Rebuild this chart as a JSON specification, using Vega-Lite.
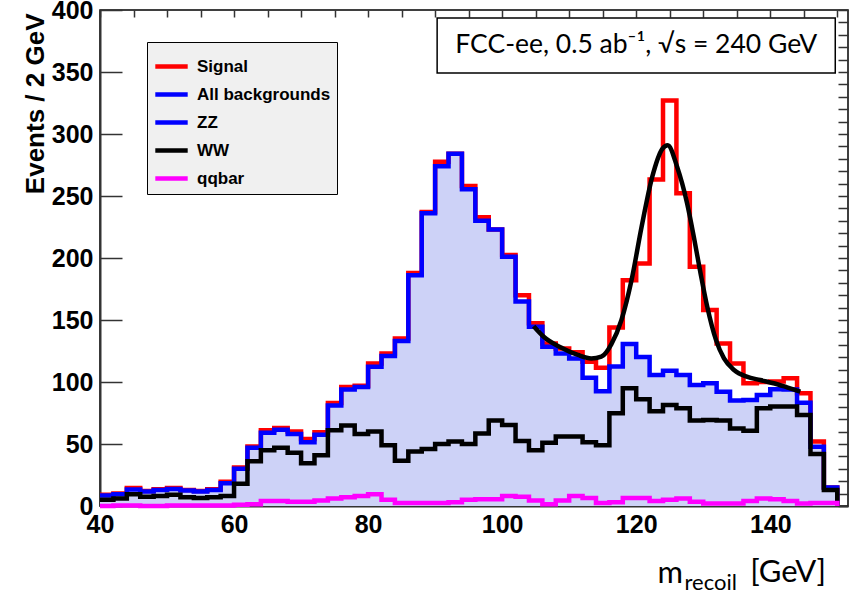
{
  "$schema": "https://vega.github.io/schema/vega-lite/v6.json",
  "width": 748,
  "height": 496,
  "autosize": {"type": "none"},
  "padding": {"left": 100, "top": 10, "right": 2, "bottom": 87},
  "background": "white",
  "config": {
    "view": {"stroke": "black", "strokeWidth": 1.5},
    "axis": {"labelFont": "Liberation Sans", "labelFontWeight": "bold", "labelFontSize": 25, "labelColor": "black", "domainColor": "#333333", "domainWidth": 2, "tickColor": "#333333", "tickWidth": 1.5, "grid": false, "titleColor": "black"},
    "legend": {"orient": "none", "legendX": 47, "legendY": 32, "symbolType": "stroke", "symbolSize": 1050, "symbolStrokeWidth": 4.5, "labelFont": "Liberation Sans", "labelFontWeight": "bold", "labelFontSize": 17, "labelColor": "black", "labelOffset": 7, "padding": 6, "fillColor": "#f0f0f0", "strokeColor": "black", "rowPadding": 0}
  },
  "datasets": {
    "hist": [
      {"x": 40, "sig": 9, "bkg": 8.5, "ww": 5, "qq": 0},
      {"x": 42, "sig": 10, "bkg": 9.4, "ww": 6, "qq": 0.5},
      {"x": 44, "sig": 14.5, "bkg": 13.4, "ww": 9.5, "qq": 0.5},
      {"x": 46, "sig": 12, "bkg": 11.6, "ww": 7.5, "qq": 0},
      {"x": 48, "sig": 13.5, "bkg": 12.9, "ww": 8, "qq": 0},
      {"x": 50, "sig": 14.5, "bkg": 13.7, "ww": 9, "qq": 0.5},
      {"x": 52, "sig": 13, "bkg": 12.4, "ww": 7, "qq": 0.5},
      {"x": 54, "sig": 12, "bkg": 11.6, "ww": 6.5, "qq": 0.5},
      {"x": 56, "sig": 13.5, "bkg": 12.9, "ww": 7, "qq": 0.5},
      {"x": 58, "sig": 19.5, "bkg": 18.3, "ww": 8, "qq": 0.5},
      {"x": 60, "sig": 31, "bkg": 30, "ww": 18, "qq": 1},
      {"x": 62, "sig": 48, "bkg": 47, "ww": 36, "qq": 1.5},
      {"x": 64, "sig": 61, "bkg": 59, "ww": 45, "qq": 4},
      {"x": 66, "sig": 63, "bkg": 61.5, "ww": 47, "qq": 4},
      {"x": 68, "sig": 60, "bkg": 58, "ww": 43, "qq": 3.5},
      {"x": 70, "sig": 54, "bkg": 51.5, "ww": 34.5, "qq": 3.5},
      {"x": 72, "sig": 59.5, "bkg": 57.5, "ww": 41, "qq": 4.5},
      {"x": 74, "sig": 83, "bkg": 81, "ww": 61, "qq": 6},
      {"x": 76, "sig": 96, "bkg": 94, "ww": 65, "qq": 7},
      {"x": 78, "sig": 97, "bkg": 96, "ww": 58, "qq": 8},
      {"x": 80, "sig": 115, "bkg": 112.3, "ww": 60, "qq": 9.5},
      {"x": 82, "sig": 123, "bkg": 121, "ww": 49, "qq": 5},
      {"x": 84, "sig": 135, "bkg": 133, "ww": 36.5, "qq": 2.5},
      {"x": 86, "sig": 188, "bkg": 186, "ww": 44, "qq": 2.5},
      {"x": 88, "sig": 237, "bkg": 236, "ww": 46, "qq": 2.5},
      {"x": 90, "sig": 277.7, "bkg": 274, "ww": 50, "qq": 2.5},
      {"x": 92, "sig": 284, "bkg": 284, "ww": 52, "qq": 3},
      {"x": 94, "sig": 258, "bkg": 255.5, "ww": 50, "qq": 5},
      {"x": 96, "sig": 232.8, "bkg": 230, "ww": 58.5, "qq": 5.5},
      {"x": 98, "sig": 223, "bkg": 223, "ww": 69, "qq": 5.5},
      {"x": 100, "sig": 202.4, "bkg": 201, "ww": 65.3, "qq": 8},
      {"x": 102, "sig": 170, "bkg": 165, "ww": 52.5, "qq": 7.5},
      {"x": 104, "sig": 147.3, "bkg": 144.6, "ww": 45, "qq": 4.5},
      {"x": 106, "sig": 131, "bkg": 128.5, "ww": 51, "qq": 1.5},
      {"x": 108, "sig": 127, "bkg": 123, "ww": 56, "qq": 4.5},
      {"x": 110, "sig": 124, "bkg": 119, "ww": 56, "qq": 8},
      {"x": 112, "sig": 116.4, "bkg": 103.5, "ww": 51.5, "qq": 6.5},
      {"x": 114, "sig": 111.5, "bkg": 92.5, "ww": 49, "qq": 2.5},
      {"x": 116, "sig": 144, "bkg": 112.5, "ww": 74.7, "qq": 3},
      {"x": 118, "sig": 182, "bkg": 130.6, "ww": 95, "qq": 6.5},
      {"x": 120, "sig": 195.5, "bkg": 120.2, "ww": 86, "qq": 6.5},
      {"x": 122, "sig": 263.4, "bkg": 105.6, "ww": 76.5, "qq": 4},
      {"x": 124, "sig": 327, "bkg": 109, "ww": 81.5, "qq": 5},
      {"x": 126, "sig": 252.2, "bkg": 105.6, "ww": 78.8, "qq": 6},
      {"x": 128, "sig": 193, "bkg": 97.6, "ww": 69, "qq": 3.5},
      {"x": 130, "sig": 158, "bkg": 99, "ww": 69.4, "qq": 2},
      {"x": 132, "sig": 131, "bkg": 92.2, "ww": 69, "qq": 2},
      {"x": 134, "sig": 115, "bkg": 85, "ww": 62.6, "qq": 2},
      {"x": 136, "sig": 99, "bkg": 85.5, "ww": 60.6, "qq": 4},
      {"x": 138, "sig": 100, "bkg": 89.5, "ww": 78.8, "qq": 6},
      {"x": 140, "sig": 100.5, "bkg": 94.2, "ww": 80.3, "qq": 5.5},
      {"x": 142, "sig": 103, "bkg": 94, "ww": 80.3, "qq": 4},
      {"x": 144, "sig": 91, "bkg": 83.3, "ww": 73.4, "qq": 2},
      {"x": 146, "sig": 52, "bkg": 47.8, "ww": 42, "qq": 2.5},
      {"x": 148, "sig": 15, "bkg": 15, "ww": 13, "qq": 2.5},
      {"x": 150, "sig": 0, "bkg": 0, "ww": 0, "qq": 0}
    ],
    "fit": [
      {"x": 104.7, "y": 145},
      {"x": 106.2, "y": 136.5},
      {"x": 108.7, "y": 128},
      {"x": 111.3, "y": 121.8},
      {"x": 113.3, "y": 119},
      {"x": 114.8, "y": 120.4},
      {"x": 116.3, "y": 130.6},
      {"x": 117.8, "y": 150},
      {"x": 119.3, "y": 182},
      {"x": 120.8, "y": 225},
      {"x": 122.4, "y": 265.6},
      {"x": 123.9, "y": 288},
      {"x": 124.7, "y": 291},
      {"x": 126.1, "y": 273.6},
      {"x": 127.6, "y": 244},
      {"x": 128.6, "y": 217},
      {"x": 129.6, "y": 187.7},
      {"x": 130.6, "y": 160.7},
      {"x": 131.9, "y": 134},
      {"x": 133.1, "y": 119},
      {"x": 134.6, "y": 109.7},
      {"x": 136.5, "y": 104.3},
      {"x": 138.5, "y": 101.6},
      {"x": 140.5, "y": 99},
      {"x": 142.5, "y": 95.7},
      {"x": 144.5, "y": 92.2}
    ]
  },
  "layer": [
    {
      "data": {"name": "hist"},
      "mark": {"type": "area", "interpolate": "step-after", "fill": "#cdd2f7"},
      "encoding": {
        "x": {"field": "x", "type": "quantitative", "scale": {"domain": [40, 151.6], "nice": false, "zero": false},
          "axis": {"values": [40, 60, 80, 100, 120, 140], "tickSize": -14, "labelPadding": 20, "labelFlush": false,
            "title": "m", "titleFont": "Lato", "titleFontSize": 31, "titleFontWeight": "normal", "titleX": 557, "titleY": 76, "titleAlign": "left", "titleBaseline": "alphabetic", "titleAnchor": "start"}},
        "y": {"field": "bkg", "type": "quantitative", "scale": {"domain": [0, 400], "nice": false},
          "axis": {"values": [0, 50, 100, 150, 200, 250, 300, 350, 400], "tickSize": -22, "labelPadding": 29,
            "title": "Events / 2 GeV", "titleFont": "Liberation Sans", "titleFontWeight": "bold", "titleFontSize": 26, "titleAngle": -90, "titleX": -57, "titleY": 3, "titleAlign": "right", "titleBaseline": "alphabetic"}}
      }
    },
    {
      "data": {"name": "hist"},
      "mark": {"type": "line", "interpolate": "step-after", "strokeWidth": 4.5, "strokeJoin": "miter"},
      "encoding": {
        "x": {"field": "x", "type": "quantitative",
          "axis": {"values": [40, 45, 50, 55, 60, 65, 70, 75, 80, 85, 90, 95, 100, 105, 110, 115, 120, 125, 130, 135, 140, 145, 150], "tickSize": -7, "labels": false, "domain": false, "title": null}},
        "y": {"field": "sig", "type": "quantitative",
          "axis": {"values": [0, 10, 20, 30, 40, 50, 60, 70, 80, 90, 100, 110, 120, 130, 140, 150, 160, 170, 180, 190, 200, 210, 220, 230, 240, 250, 260, 270, 280, 290, 300, 310, 320, 330, 340, 350, 360, 370, 380, 390, 400], "tickSize": -10, "labels": false, "domain": false, "title": null}},
        "stroke": {"datum": "Signal", "type": "nominal",
          "scale": {"domain": ["Signal", "All backgrounds", "ZZ", "WW", "qqbar"], "range": ["#ff0000", "#0000ff", "#0000ff", "#000000", "#ff00ff"]},
          "legend": {"title": null}}
      }
    },
    {
      "data": {"name": "hist"},
      "mark": {"type": "line", "interpolate": "step-after", "strokeWidth": 4.5, "strokeJoin": "miter"},
      "encoding": {
        "x": {"field": "x", "type": "quantitative", "axis": null},
        "y": {"field": "bkg", "type": "quantitative", "axis": null},
        "stroke": {"datum": "All backgrounds", "type": "nominal"}
      }
    },
    {
      "data": {"name": "hist"},
      "mark": {"type": "line", "interpolate": "step-after", "strokeWidth": 4.5, "strokeJoin": "miter"},
      "encoding": {
        "x": {"field": "x", "type": "quantitative", "axis": null},
        "y": {"field": "ww", "type": "quantitative", "axis": null},
        "stroke": {"datum": "WW", "type": "nominal"}
      }
    },
    {
      "data": {"name": "hist"},
      "mark": {"type": "line", "interpolate": "step-after", "strokeWidth": 4.5, "strokeJoin": "miter"},
      "encoding": {
        "x": {"field": "x", "type": "quantitative", "axis": null},
        "y": {"field": "qq", "type": "quantitative", "axis": null},
        "stroke": {"datum": "qqbar", "type": "nominal"}
      }
    },
    {
      "data": {"name": "fit"},
      "mark": {"type": "line", "interpolate": "monotone", "strokeWidth": 4.5, "stroke": "black"},
      "encoding": {
        "x": {"field": "x", "type": "quantitative", "axis": null},
        "y": {"field": "y", "type": "quantitative", "axis": null}
      }
    },
    {
      "data": {"values": [{}]},
      "mark": {"type": "rect", "fill": "white", "stroke": "black", "strokeWidth": 1.5},
      "encoding": {
        "x": {"datum": 90.3, "type": "quantitative", "axis": null},
        "x2": {"datum": 149.7},
        "y": {"datum": 393.5, "type": "quantitative", "axis": null},
        "y2": {"datum": 349.2}
      }
    },
    {
      "data": {"values": [{}]},
      "mark": {"type": "text", "font": "Lato", "fontSize": 26.5, "color": "black", "align": "center", "baseline": "middle"},
      "encoding": {
        "x": {"datum": 120, "type": "quantitative", "axis": null},
        "y": {"datum": 371.4, "type": "quantitative", "axis": null},
        "text": {"value": "FCC-ee, 0.5 ab⁻¹, √s = 240 GeV"}
      }
    },
    {
      "data": {"values": [{}]},
      "mark": {"type": "text", "font": "Lato", "fontSize": 22, "color": "black", "align": "left", "baseline": "alphabetic"},
      "encoding": {
        "x": {"datum": 127.2, "type": "quantitative", "axis": null},
        "y": {"datum": -67.7, "type": "quantitative", "axis": null},
        "text": {"value": "recoil"}
      }
    },
    {
      "data": {"values": [{}]},
      "mark": {"type": "text", "font": "Lato", "fontSize": 31, "color": "black", "align": "left", "baseline": "alphabetic"},
      "encoding": {
        "x": {"datum": 137.0, "type": "quantitative", "axis": null},
        "y": {"datum": -61.3, "type": "quantitative", "axis": null},
        "text": {"value": "[GeV]"}
      }
    }
  ],
  "resolve": {"axis": {"x": "independent", "y": "independent"}}
}
